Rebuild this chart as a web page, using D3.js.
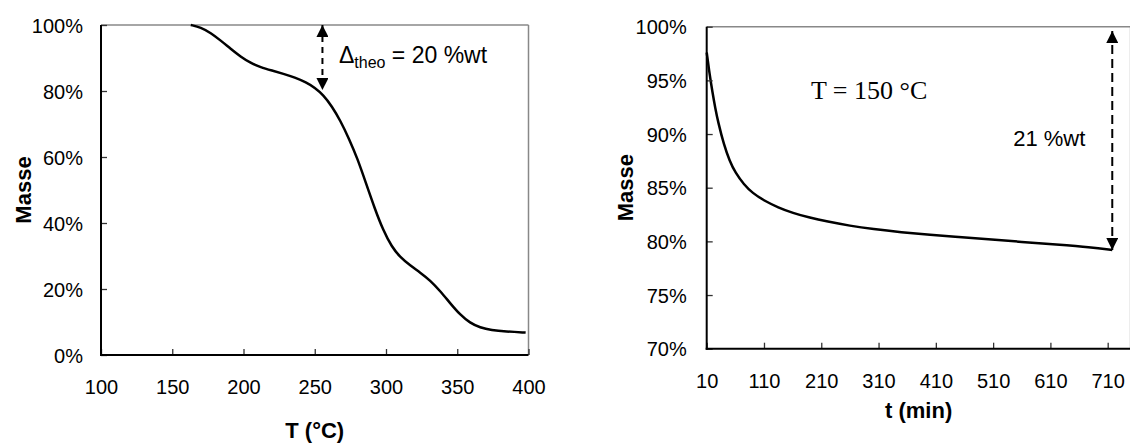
<!DOCTYPE html>
<html><head><meta charset="utf-8">
<script src="https://cdn.jsdelivr.net/npm/d3@7"></script>
<style>
body{margin:0;background:#fff}
svg{display:block}
text{font-family:"Liberation Sans",Arial,sans-serif;fill:#000}
</style>
</head><body>
<svg id="c" width="1130" height="444"></svg>
<script>
// ---- Data: TGA ramp (left) ----
const tgaTemp = [163,170,177,184,191,198,205,212,220,228,236,244,250,256,262,268,274,280,286,292,298,304,310,317,324,331,338,345,352,359,366,374,384,398];
const tgaMass = [1.000,0.993,0.976,0.953,0.928,0.904,0.885,0.872,0.862,0.852,0.841,0.826,0.810,0.788,0.754,0.710,0.656,0.595,0.520,0.445,0.378,0.328,0.296,0.271,0.250,0.226,0.194,0.157,0.122,0.097,0.083,0.075,0.071,0.068];
// ---- Data: isotherm at 150 °C (right) ----
const isoTime = [10,15,20,25,30,40,50,60,75,90,110,135,160,190,220,260,300,350,400,450,500,560,620,680,718];
const isoMass = [0.976,0.956,0.939,0.924,0.911,0.890,0.875,0.864,0.853,0.845,0.838,0.8315,0.8265,0.822,0.8185,0.8145,0.8115,0.8085,0.806,0.804,0.802,0.7995,0.797,0.7945,0.792];
// ---- Tick values ----
const leftXTicks = [100,150,200,250,300,350,400];
const leftYTicks = [0,0.2,0.4,0.6,0.8,1.0];
const rightXTicks = [10,110,210,310,410,510,610,710];
const rightYTicks = [0.70,0.75,0.80,0.85,0.90,0.95,1.00];
// ---- Annotations ----
const leftArrow = {x:255.4, yTop:1.0, yBottom:0.803};
const leftNote = {x:267, y:0.884, main:"Δ", sub:"theo", rest:" = 20 %wt"};
const rightArrow = {x:718, yTop:0.996, yBottom:0.792};
const rightNote1 = {x:192, y:0.933, text:"T = 150 °C"};
const rightNote2 = {x:545, y:0.889, text:"21 %wt"};

const svg = d3.select("#c");
const defs = svg.append("defs");
defs.append("marker").attr("id","ah").attr("viewBox","0 0 12 12")
  .attr("refX",12).attr("refY",6).attr("markerWidth",12).attr("markerHeight",12)
  .attr("markerUnits","userSpaceOnUse").attr("orient","auto-start-reverse")
  .append("path").attr("d","M0,0 L12,6 L0,12 Z").attr("fill","#000");

const pct = d3.format(".0%");

function panel(o){
  const x = d3.scaleLinear().domain(o.xDomain).range([o.left,o.right]);
  const y = d3.scaleLinear().domain(o.yDomain).range([o.bottom,o.top]);
  const g = svg.append("g");
  g.append("line").attr("x1",o.left).attr("x2",o.right).attr("y1",o.top).attr("y2",o.top)
    .attr("stroke","#888").attr("stroke-width",1.5);
  g.append("line").attr("x1",o.right).attr("x2",o.right).attr("y1",o.top).attr("y2",o.bottom)
    .attr("stroke","#888").attr("stroke-width",1.5);
  const line = d3.line().x((d,i)=>x(o.xs[i])).y((d,i)=>y(o.ys[i])).curve(d3.curveBasis);
  g.append("path").datum(o.xs).attr("d",line).attr("fill","none")
    .attr("stroke","#000").attr("stroke-width",2.5).attr("stroke-linejoin","round");
  const ax = g.append("g").attr("transform",`translate(0,${o.bottom})`)
    .call(d3.axisBottom(x).tickValues(o.xTicks).tickSize(-6).tickFormat(d3.format("d")));
  ax.select(".domain").remove();
  ax.selectAll(".tick line").attr("stroke","#333").attr("stroke-width",1.3);
  ax.selectAll(".tick text").attr("y",o.xLabelOff).attr("dy","0.35em")
    .style("font-size","20px").style("font-family","Liberation Sans, Arial, sans-serif");
  const ay = g.append("g").attr("transform",`translate(${o.left},0)`)
    .call(d3.axisLeft(y).tickValues(o.yTicks).tickSize(-6).tickFormat(pct));
  ay.select(".domain").remove();
  ay.selectAll(".tick line").attr("stroke","#333").attr("stroke-width",1.3);
  ay.selectAll(".tick text").attr("x",-o.yLabelGap).attr("dy","0.35em")
    .style("font-size","20px").style("font-family","Liberation Sans, Arial, sans-serif");
  g.append("line").attr("x1",o.left).attr("x2",o.left).attr("y1",o.top).attr("y2",o.bottom+1)
    .attr("stroke","#000").attr("stroke-width",2);
  g.append("line").attr("x1",o.left-1).attr("x2",o.right).attr("y1",o.bottom).attr("y2",o.bottom)
    .attr("stroke","#000").attr("stroke-width",2);
  g.append("text").attr("x",(o.left+o.right)/2).attr("y",o.xTitleY).attr("dy","0.35em")
    .attr("text-anchor","middle").style("font-size","22px").style("font-weight","bold").text(o.xTitle);
  g.append("text").attr("transform",`translate(${o.yTitleX},${(o.top+o.bottom)/2}) rotate(-90)`)
    .attr("dy","0.35em").attr("text-anchor","middle").style("font-size","22px").style("font-weight","bold").text("Masse");
  return {x,y,g};
}

const L = panel({left:101,right:528.5,top:25,bottom:355,xDomain:[100,400],yDomain:[0,1],
  xs:tgaTemp,ys:tgaMass,xTicks:leftXTicks,yTicks:leftYTicks,xLabelOff:32,yLabelGap:18,
  xTitle:"T (°C)",xTitleY:430,yTitleX:23});
const R = panel({left:706.7,right:1130.6,top:26.7,bottom:348.7,xDomain:[10,750],yDomain:[0.7,1.0],
  xs:isoTime,ys:isoMass,xTicks:rightXTicks,yTicks:rightYTicks,xLabelOff:32,yLabelGap:20,
  xTitle:"t (min)",xTitleY:410,yTitleX:625});

L.g.append("line").attr("x1",L.x(leftArrow.x)).attr("x2",L.x(leftArrow.x))
  .attr("y1",L.y(leftArrow.yTop)).attr("y2",L.y(leftArrow.yBottom))
  .attr("stroke","#000").attr("stroke-width",2).attr("stroke-dasharray","6,5")
  .attr("marker-start","url(#ah)").attr("marker-end","url(#ah)");
const t1 = L.g.append("text").attr("x",L.x(leftNote.x)).attr("y",L.y(leftNote.y)).style("font-size","23px");
t1.append("tspan").text(leftNote.main);
t1.append("tspan").attr("dy",5).style("font-size","16px").text(leftNote.sub);
t1.append("tspan").attr("dy",-5).text(leftNote.rest);

R.g.append("line").attr("x1",R.x(rightArrow.x)).attr("x2",R.x(rightArrow.x))
  .attr("y1",R.y(rightArrow.yTop)).attr("y2",R.y(rightArrow.yBottom))
  .attr("stroke","#000").attr("stroke-width",2).attr("stroke-dasharray","9,5")
  .attr("marker-start","url(#ah)").attr("marker-end","url(#ah)");
R.g.append("text").attr("x",R.x(rightNote1.x)).attr("y",R.y(rightNote1.y))
  .style("font-family","Liberation Serif, Times New Roman, serif").style("font-size","26px").text(rightNote1.text);
R.g.append("text").attr("x",R.x(rightNote2.x)).attr("y",R.y(rightNote2.y))
  .style("font-size","22px").text(rightNote2.text);
</script>
</body></html>
